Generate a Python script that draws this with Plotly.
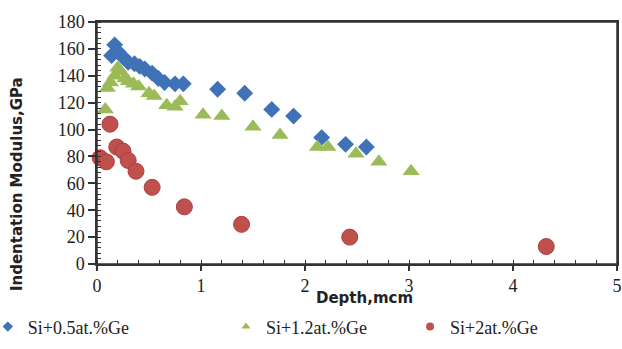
import plotly.graph_objects as go

# Data
blue_name = "Si+0.5at.%Ge"
blue_x = [0.14, 0.17, 0.2, 0.25, 0.3, 0.36, 0.41, 0.46, 0.53, 0.59, 0.65, 0.75, 0.83,
          1.16, 1.42, 1.68, 1.89, 2.16, 2.39, 2.59]
blue_y = [155, 163, 158, 154, 150, 149, 147, 145, 142, 138, 135, 134, 134,
          130, 127, 115, 110, 94, 89, 87]

green_name = "Si+1.2at.%Ge"
green_x = [0.08, 0.1, 0.13, 0.17, 0.2, 0.23, 0.27, 0.3, 0.35, 0.4, 0.5, 0.55, 0.67, 0.75,
           0.8, 1.02, 1.2, 1.5, 1.76, 2.12, 2.22, 2.49, 2.71, 3.02]
green_y = [115, 131, 135, 140, 146, 143, 138, 136, 134, 132, 127, 125, 118, 117,
           121, 111, 110, 102, 96, 87, 87, 82, 76, 69]

red_name = "Si+2at.%Ge"
red_x = [0.03, 0.09, 0.125, 0.19, 0.25, 0.3, 0.375, 0.53, 0.84, 1.39, 2.43, 4.32]
red_y = [79, 76, 104, 87, 84, 77, 69, 57, 42.5, 29.5, 20, 13]

x_ticks = [0, 1, 2, 3, 4, 5]
y_ticks = [0, 20, 40, 60, 80, 100, 120, 140, 160, 180]

x_title = "Depth,mcm"
y_title = "Indentation Modulus,GPa"

BLUE = "#3F72B6"
GREEN = "#9BBB59"
RED = "#C0504D"

serif = "Liberation Serif"
sans = "DejaVu Sans"

fig = go.Figure()

fig.add_trace(go.Scatter(x=blue_x, y=blue_y, mode="markers", name=blue_name, showlegend=False,
                         cliponaxis=False,
                         marker=dict(symbol="diamond", size=13, color=BLUE, line=dict(width=0))))
fig.add_trace(go.Scatter(x=green_x, y=green_y, mode="markers", name=green_name, showlegend=False,
                         cliponaxis=False,
                         marker=dict(symbol="triangle-up", size=15, color=GREEN, line=dict(width=0))))
fig.add_trace(go.Scatter(x=red_x, y=red_y, mode="markers", name=red_name, showlegend=False,
                         cliponaxis=False,
                         marker=dict(symbol="circle", size=16, color=RED,
                                     line=dict(width=1, color="#A8403D"))))

# legend entries (small symbols, like the reference)
fig.add_trace(go.Scatter(x=[None], y=[None], mode="markers", name=blue_name, legend="legend",
                         marker=dict(symbol="diamond", size=8, color=BLUE)))
fig.add_trace(go.Scatter(x=[None], y=[None], mode="markers", name=green_name, legend="legend2",
                         marker=dict(symbol="triangle-up", size=8, color=GREEN)))
fig.add_trace(go.Scatter(x=[None], y=[None], mode="markers", name=red_name, legend="legend3",
                         marker=dict(symbol="circle", size=8, color=RED)))

axis_color = "#333333"
legend_common = dict(orientation="h", yanchor="middle", xanchor="left",
                     font=dict(family=serif, size=18, color="#222222"),
                     bgcolor="rgba(0,0,0,0)", borderwidth=0)

fig.update_layout(
    width=622, height=349,
    margin=dict(l=97, r=5, t=22, b=85, autoexpand=False),
    paper_bgcolor="white", plot_bgcolor="white",
    showlegend=True,
    legend=dict(x=-0.21, y=-0.26, **legend_common),
    legend2=dict(x=0.248, y=-0.26, **legend_common),
    legend3=dict(x=0.602, y=-0.26, **legend_common),
    xaxis=dict(range=[x_ticks[0], x_ticks[-1]], tickmode="linear", tick0=x_ticks[0],
               dtick=x_ticks[1] - x_ticks[0],
               showgrid=False, zeroline=False, showline=True, linecolor=axis_color, linewidth=1.5,
               mirror=True, ticks="outside", ticklen=5, tickwidth=1.5, tickcolor=axis_color,
               minor=dict(dtick=0.2, ticks="inside", ticklen=4, tickwidth=1, tickcolor=axis_color,
                          showgrid=False),
               tickfont=dict(family=serif, size=18, color="#222222")),
    yaxis=dict(range=[y_ticks[0], y_ticks[-1]], tickmode="linear", tick0=y_ticks[0],
               dtick=y_ticks[1] - y_ticks[0],
               showgrid=False, zeroline=False, showline=True, linecolor=axis_color, linewidth=1.5,
               mirror=True, ticks="outside", ticklen=7, tickwidth=1.5, tickcolor=axis_color,
               minor=dict(dtick=4, ticks="inside", ticklen=4, tickwidth=1, tickcolor=axis_color,
                          showgrid=False),
               tickfont=dict(family=serif, size=18, color="#222222")),
    shapes=[dict(type="rect", xref="paper", yref="paper", x0=0, y0=0, x1=1, y1=1,
                 line=dict(color=axis_color, width=1.5), fillcolor="rgba(0,0,0,0)", layer="above")],
    annotations=[
        dict(text="<b>" + x_title + "</b>", xref="paper", yref="paper", x=0.515, y=-0.14,
             xanchor="center", yanchor="middle", showarrow=False,
             font=dict(family=sans, size=15, color="#222222")),
        dict(text="<b>" + y_title + "</b>", xref="paper", yref="paper", x=-0.154, y=0.33,
             xanchor="center", yanchor="middle", textangle=-90, showarrow=False,
             font=dict(family=sans, size=15, color="#222222")),
    ],
)

fig.write_html("out.html")
